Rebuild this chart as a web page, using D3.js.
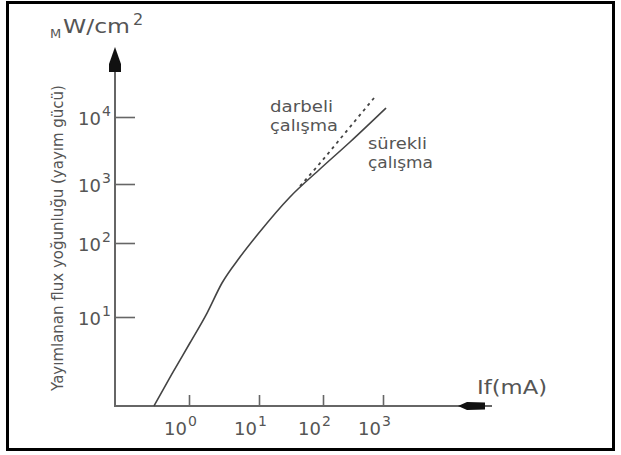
<!DOCTYPE html>
<html>
<head>
<meta charset="utf-8">
<script src="https://cdn.jsdelivr.net/npm/d3@7"></script>
<style>
  body { margin: 0; background: #fff; }
  text { font-family: 'DejaVu Sans', sans-serif; fill: #555; }
</style>
</head>
<body>
<script>
// tick values (decades)
let xTicks = [1, 10, 100, 1000];
let yTicks = [10, 100, 1000, 10000];
let xExp = ['0', '1', '2', '3'];
let yExp = ['1', '2', '3', '4'];

// If (mA) vs flux density
let surekliIf = [0.316, 0.571, 1.03, 1.81, 2.96, 5.35, 9.68, 30.5, 89.8, 282, 1122];
let surekliP  = [1, 2.29, 5.1, 11.3, 28.8, 64.6, 142, 603, 1675, 4240, 13620];
let darbeliIf = [43.8, 90, 232, 708];
let darbeliP  = [925, 2050, 5750, 19200];

let width = 621, height = 455;
let x0 = 115, y0 = 406;

let svg = d3.select('body')
            .append('svg')
            .attr('width', width)
            .attr('height', height)

// hand drawn decades are not evenly spaced, so piecewise log scales
let xscale = d3.scaleLog()
              .domain([1, 10, 100, 1000])
              .range([189, 259, 323, 383])

let yscale = d3.scaleLog()
              .domain([1, 10, 100, 1000, 10000])
              .range([406, 317, 243, 184, 117])

// frame
svg.append('rect')
  .attr('x', 7.5).attr('y', 2.5)
  .attr('width', 606).attr('height', 447)
  .attr('fill', 'none')
  .attr('stroke', '#000')
  .attr('stroke-width', 3)

// axes lines
svg.append('line')
  .attr('x1', x0).attr('y1', 70).attr('x2', x0).attr('y2', y0)
  .attr('stroke', '#666').attr('stroke-width', 2)
svg.append('line')
  .attr('x1', x0 - 1).attr('y1', y0).attr('x2', 492).attr('y2', y0)
  .attr('stroke', '#666').attr('stroke-width', 2)

// arrow heads
svg.append('path')
  .attr('d', 'M115,47 L121,64 L121,72 L109,72 L109,64 Z')
  .attr('fill', '#111')
svg.append('path')
  .attr('d', 'M458,406 L467,402 L485,402.5 L485,409.5 L467,410 Z')
  .attr('fill', '#111')

let yaxis = svg.append('g')
              .attr('transform', `translate(${x0},0)`)
              .call(d3.axisRight(yscale).tickValues(yTicks).tickSize(20).tickFormat(''))
yaxis.select('.domain').remove()
yaxis.selectAll('line').attr('stroke', '#666').attr('stroke-width', 1.6)

let xaxis = svg.append('g')
              .attr('transform', `translate(0,${y0})`)
              .call(d3.axisTop(xscale).tickValues(xTicks).tickSize(11).tickFormat(''))
xaxis.select('.domain').remove()
xaxis.selectAll('line').attr('stroke', '#666').attr('stroke-width', 1.6)

// tick labels 10^n
xTicks.forEach((v, i) => {
  svg.append('text')
    .attr('x', xscale(v) - 2).attr('y', 435)
    .attr('text-anchor', 'end')
    .style('font-size', '18px')
    .text('10')
  svg.append('text')
    .attr('x', xscale(v) - 1).attr('y', 426)
    .style('font-size', '14px')
    .text(xExp[i])
})

yTicks.forEach((v, i) => {
  svg.append('text')
    .attr('x', 101).attr('y', yscale(v) + 8)
    .attr('text-anchor', 'end')
    .style('font-size', '18px')
    .text('10')
  svg.append('text')
    .attr('x', 102).attr('y', yscale(v) - 1)
    .style('font-size', '14px')
    .text(yExp[i])
})

// curves
let line = d3.line()
            .x(d => xscale(d[0]))
            .y(d => yscale(d[1]))
            .curve(d3.curveMonotoneX)

svg.append('path')
  .datum(d3.zip(surekliIf, surekliP))
  .attr('d', line)
  .attr('fill', 'none')
  .attr('stroke', '#444')
  .attr('stroke-width', 1.6)

svg.append('path')
  .datum(d3.zip(darbeliIf, darbeliP))
  .attr('d', line)
  .attr('fill', 'none')
  .attr('stroke', '#444')
  .attr('stroke-width', 1.8)
  .attr('stroke-dasharray', '3,4')

// curve labels
let label = (x, y, len, s) => svg.append('text')
  .attr('x', x).attr('y', y)
  .attr('textLength', len).attr('lengthAdjust', 'spacingAndGlyphs')
  .style('font-size', '16px')
  .text(s)
label(270, 112, 63, 'darbeli')
label(270, 131, 68, 'çalışma')
label(368, 149, 59, 'sürekli')
label(368, 168, 65, 'çalışma')

// axis titles
svg.append('text').attr('x', 477).attr('y', 394)
  .attr('textLength', 70).attr('lengthAdjust', 'spacingAndGlyphs')
  .style('font-size', '19px').text('If(mA)')

svg.append('text').attr('x', 50).attr('y', 38).style('font-size', '13px').text('M')
svg.append('text').attr('x', 63).attr('y', 33)
  .attr('textLength', 67).attr('lengthAdjust', 'spacingAndGlyphs')
  .style('font-size', '20px').text('W/cm')
svg.append('text').attr('x', 133).attr('y', 25).style('font-size', '16px').text('2')

svg.append('text')
  .text('Yayımlanan flux yoğunluğu (yayım gücü)')
  .attr('x', -238)
  .attr('y', 63)
  .attr('text-anchor', 'middle')
  .attr('transform', 'rotate(-90)')
  .style('font-size', '15px')
</script>
</body>
</html>
